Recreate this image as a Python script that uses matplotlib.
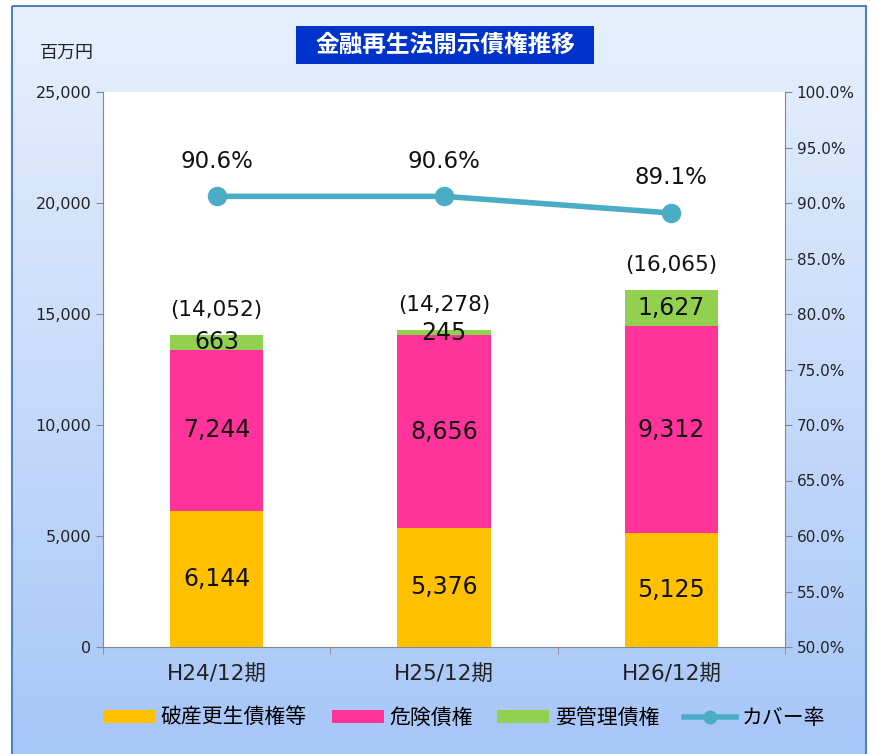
import matplotlib
matplotlib.use("Agg")
import matplotlib.pyplot as plt
import numpy as np
from matplotlib.patches import Rectangle
from matplotlib.ticker import FuncFormatter
from matplotlib.lines import Line2D

plt.rcParams['font.family'] = ['DejaVu Sans', 'Noto Sans CJK JP']

# data
periods = ['H24/12期', 'H25/12期', 'H26/12期']
hasan = [6144, 5376, 5125]        # 破産更生債権等
kiken = [7244, 8656, 9312]        # 危険債権
youkanri = [663, 245, 1627]       # 要管理債権
totals = [14052, 14278, 16065]
cover = [90.6, 90.6, 89.1]        # カバー率 (%)

c_yellow = '#ffc000'
c_pink = '#ff3399'
c_green = '#92d050'
c_line = '#4bacc6'

fig = plt.figure(figsize=(8.76, 7.54), dpi=100)

# gradient background with border
bg = fig.add_axes([0, 0, 1, 1], zorder=-10)
bg.set_xlim(0, 876)
bg.set_ylim(754, 0)
bg.axis('off')
top_c = np.array([0xe8, 0xf0, 0xfd]) / 255
bot_c = np.array([0xa6, 0xc6, 0xf8]) / 255
t = np.linspace(0, 1, 256)[:, None]
grad = top_c[None, :] * (1 - t[:, :, None]) + bot_c[None, :] * t[:, :, None]
grad = np.repeat(grad, 2, axis=1)
bg.imshow(grad, extent=[12, 866, 760, 6], aspect='auto', zorder=0)
bg.add_patch(Rectangle((12, 6), 854, 760, fill=False, edgecolor='#4f81bd', lw=1.5, zorder=1))

# title box
bg.add_patch(Rectangle((296, 26), 298, 38, facecolor='#0033cc', edgecolor='none', zorder=2))
bg.text(445, 45, '金融再生法開示債権推移', color='white', fontsize=17, fontweight='bold',
        ha='center', va='center', zorder=3, family='Noto Sans CJK JP')
bg.text(67, 53, '百万円', fontsize=13, ha='center', va='center', color='#222222',
        family='Noto Sans CJK JP')

ax = fig.add_axes([103 / 876, 1 - 647 / 754, (785 - 103) / 876, (647 - 92) / 754])
ax.set_facecolor('white')
x = np.arange(len(periods))
w = 0.41
b1 = ax.bar(x, hasan, w, color=c_yellow, label='破産更生債権等', zorder=2)
bottom2 = np.array(hasan)
b2 = ax.bar(x, kiken, w, bottom=bottom2, color=c_pink, label='危険債権', zorder=2)
bottom3 = bottom2 + np.array(kiken)
b3 = ax.bar(x, youkanri, w, bottom=bottom3, color=c_green, label='要管理債権', zorder=2)

for i in range(len(x)):
    ax.text(x[i], hasan[i] / 2, f'{hasan[i]:,}', ha='center', va='center', fontsize=17, color='#111111', zorder=4)
    ax.text(x[i], bottom2[i] + kiken[i] / 2, f'{kiken[i]:,}', ha='center', va='center', fontsize=17, color='#111111', zorder=4)
    ax.text(x[i], bottom3[i] + youkanri[i] / 2, f'{youkanri[i]:,}', ha='center', va='center', fontsize=17, color='#111111', zorder=4)
    ax.annotate(f'({totals[i]:,})', (x[i], totals[i]), xytext=(0, 11), textcoords='offset points',
                ha='center', va='bottom', fontsize=15.5, color='#111111')

ax.set_xlim(-0.5, 2.5)
ax.set_ylim(0, 25000)
ax.set_yticks(np.arange(0, 25001, 5000))
ax.yaxis.set_major_formatter(FuncFormatter(lambda v, p: f'{int(v):,}'))
ax.set_xticks(x)
ax.set_xticklabels(periods, fontsize=15.5)
ax.set_xticks([-0.5, 0.5, 1.5, 2.5], minor=True)
ax.tick_params(axis='x', which='major', length=0, pad=13, colors='#222222')
ax.tick_params(axis='x', which='minor', length=5, color='#888888')
ax.tick_params(axis='y', length=5, color='#888888', labelsize=11.5, labelcolor='#222222')
for s in ['top', 'right']:
    ax.spines[s].set_visible(False)
for s in ['left', 'bottom']:
    ax.spines[s].set_color('#888888')

ax2 = ax.twinx()
ax2.plot(x, cover, color=c_line, lw=4, marker='o', markersize=13, zorder=5, solid_capstyle='round')
for i in range(len(x)):
    ax2.annotate(f'{cover[i]:.1f}%', (x[i], cover[i]), xytext=(0, 17), textcoords='offset points',
                 ha='center', va='bottom', fontsize=16.5, color='#111111')
ax2.set_ylim(50, 100)
ax2.set_yticks(np.arange(50, 100.1, 5))
ax2.yaxis.set_major_formatter(FuncFormatter(lambda v, p: f'{v:.1f}%'))
ax2.tick_params(axis='y', length=5, color='#888888', labelsize=11, labelcolor='#222222')
for s in ['top', 'left', 'bottom']:
    ax2.spines[s].set_visible(False)
ax2.spines['right'].set_color('#888888')

handles = [b1, b2, b3,
           Line2D([0], [0], color=c_line, lw=4, marker='o', markersize=9)]
labels = ['破産更生債権等', '危険債権', '要管理債権', 'カバー率']
fig.legend(handles, labels, loc='center', bbox_to_anchor=(464 / 876, 1 - 718 / 754), ncol=4,
           frameon=False, prop={'family': 'Noto Sans CJK JP', 'size': 15},
           handlelength=2.5, handleheight=0.55, columnspacing=1.2, handletextpad=0.25)

fig.savefig('out.png', dpi=100)
